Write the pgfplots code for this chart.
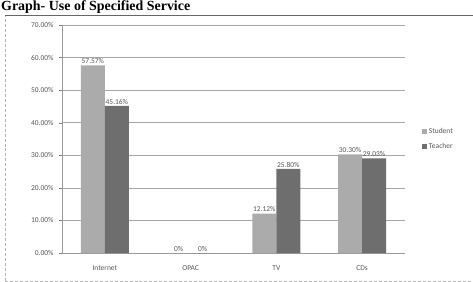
\documentclass[border=0pt]{standalone}
\usepackage{pgfplots}
\pgfplotsset{compat=1.18}
\usepackage{fontspec}
\setmainfont{Carlito}
\newfontfamily\titlefont{Liberation Serif}
\definecolor{stud}{HTML}{ABABAB}
\definecolor{teach}{HTML}{6E6E6E}
\definecolor{txt}{HTML}{555555}
\begin{document}
\begin{tikzpicture}
\useasboundingbox (0,0) rectangle (473bp,282bp);
\node[anchor=base west,inner sep=0pt,font=\titlefont\bfseries\fontsize{14}{16}\selectfont] at (1bp,271bp) {Graph- Use of Specified Service};
\draw[gray!60,densely dashed] (5bp,1bp) -- (5bp,267bp);
\draw[gray!60,densely dashed] (5bp,1bp) -- (472bp,1bp);
\draw[gray!80!black,line width=0.8bp] (5bp,267bp) -- (473bp,267bp);
\begin{axis}[
  at={(62bp,29bp)}, anchor=south west,
  scale only axis, width=343bp, height=228bp,
  ybar=0pt, bar width=24bp,
  xmin=-0.5, xmax=3.5, ymin=0, ymax=70,
  xtick={0,1,2,3}, xticklabels={Internet,OPAC,TV,CDs},
  extra x ticks={-0.5,0.5,1.5,2.5,3.5}, extra x tick labels={},
  major x tick style={draw=none},
  ytick={0,10,...,70},
  /pgf/number format/assume math mode=true,
  yticklabel={\pgfmathprintnumber[fixed,fixed zerofill,precision=2,assume math mode=true]{\tick}\%},
  axis x line*=bottom, axis y line*=left,
  axis line style={gray!80},
  major tick length=3bp,
  y tick style={gray},
  tick align=outside,
  ymajorgrids, grid style={gray!70, line width=0.6bp},
  ticklabel style={font=\fontsize{7.5}{8}\selectfont, text=txt},
  xticklabel style={yshift=-6bp},
  yticklabel style={xshift=-2bp},
  point meta=explicit symbolic,
  nodes near coords,
  every node near coord/.append style={font=\fontsize{7.5}{8}\selectfont, text=txt, inner sep=1.5bp},
  legend style={at={(1.04,0.5)}, anchor=west, draw=none, fill=none, font=\fontsize{7.5}{8}\selectfont, text=txt, row sep=5bp},
  legend image code/.code={\fill[#1] (0bp,-2.5bp) rectangle (5bp,2.5bp);},
  clip=false,
]
\addplot[fill=stud, draw=none] coordinates {(0,57.57) [57.57\%] (1,0) [0\%] (2,12.12) [12.12\%] (3,30.30) [30.30\%]};
\addplot[fill=teach, draw=none] coordinates {(0,45.16) [45.16\%] (1,0) [0\%] (2,25.80) [25.80\%] (3,29.03) [29.03\%]};
\legend{Student,Teacher}
\end{axis}
\end{tikzpicture}
\end{document}
